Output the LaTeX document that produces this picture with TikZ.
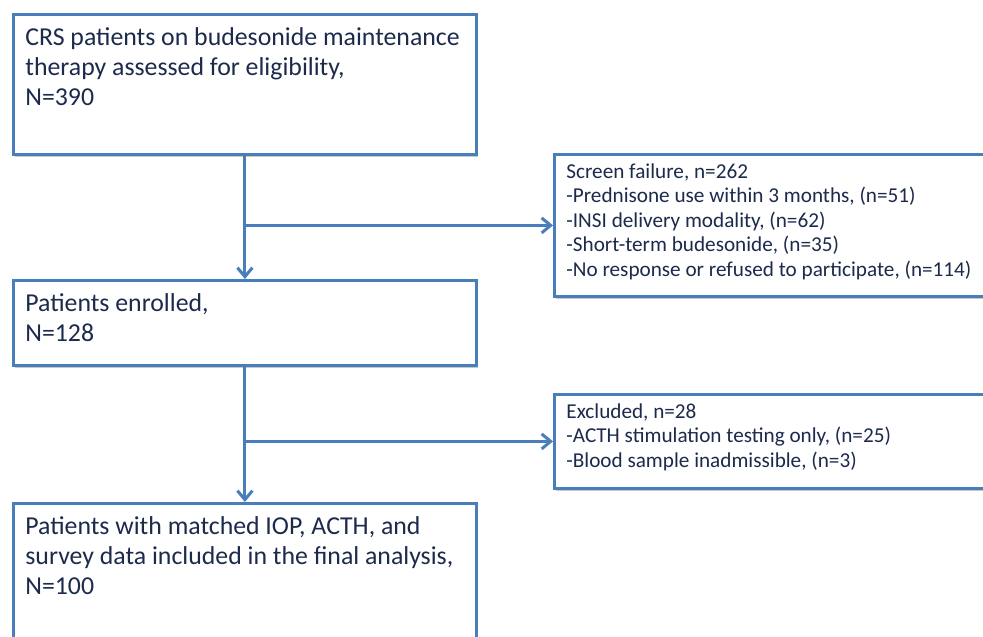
\documentclass[tikz,border=0pt]{standalone}
\usepackage{fontspec}
\setmainfont{Carlito}
\usetikzlibrary{arrows.meta,shadows}
\definecolor{boxblue}{HTML}{4A7EBB}
\definecolor{txtnavy}{HTML}{1C2A4C}
\tikzset{
  x=1pt, y=-1pt,
  flowbox/.style={draw=boxblue, line width=2.8pt, fill=white, anchor=north west,
    inner xsep=12pt, inner ysep=13pt, text=txtnavy, font=\fontsize{25.8}{30}\selectfont,
    drop shadow={shadow xshift=2pt, shadow yshift=-2.5pt, opacity=0.35, fill=black!60}},
  sidebox/.style={flowbox, inner ysep=9pt, font=\fontsize{21.2}{24.5}\selectfont},
  arr/.style={draw=boxblue, line width=3pt, -{Straight Barb[length=9pt,width=15pt,line width=3pt]}},
}
\begin{document}
\begin{tikzpicture}
\useasboundingbox (0,0) rectangle (983,637);
\clip (0,0) rectangle (983,637);
\fill[white] (0,0) rectangle (983,637);
\node[flowbox] (b1) at (12,13) {\parbox[t][114pt][t]{439pt}{CRS patients on budesonide maintenance\\therapy assessed for eligibility,\\N=390}};
\node[flowbox] (b2) at (12,279) {\parbox[t][59pt][t]{439pt}{Patients enrolled,\\N=128}};
\node[flowbox] (b3) at (12,502) {\parbox[t][174pt][t]{439pt}{Patients with matched IOP, ACTH, and\\survey data included in the final analysis,\\N=100}};
\node[sidebox] (sf) at (553,153) {\parbox[t][124pt][t]{456pt}{Screen failure, n=262\\-Prednisone use within 3 months, (n=51)\\-INSI delivery modality, (n=62)\\-Short-term budesonide, (n=35)\\-No response or refused to participate, (n=114)}};
\node[sidebox] (ex) at (553,393) {\parbox[t][76pt][t]{456pt}{Excluded, n=28\\-ACTH stimulation testing only, (n=25)\\-Blood sample inadmissible, (n=3)}};
\coordinate (j1) at (b1.south |- sf.west);
\coordinate (j2) at (b2.south |- ex.west);
\draw[arr] (b1.south) -- (b2.north);
\draw[arr] (j1) -- (sf.west);
\draw[arr] (b2.south) -- (b3.north);
\draw[arr] (j2) -- (ex.west);
\end{tikzpicture}
\end{document}
